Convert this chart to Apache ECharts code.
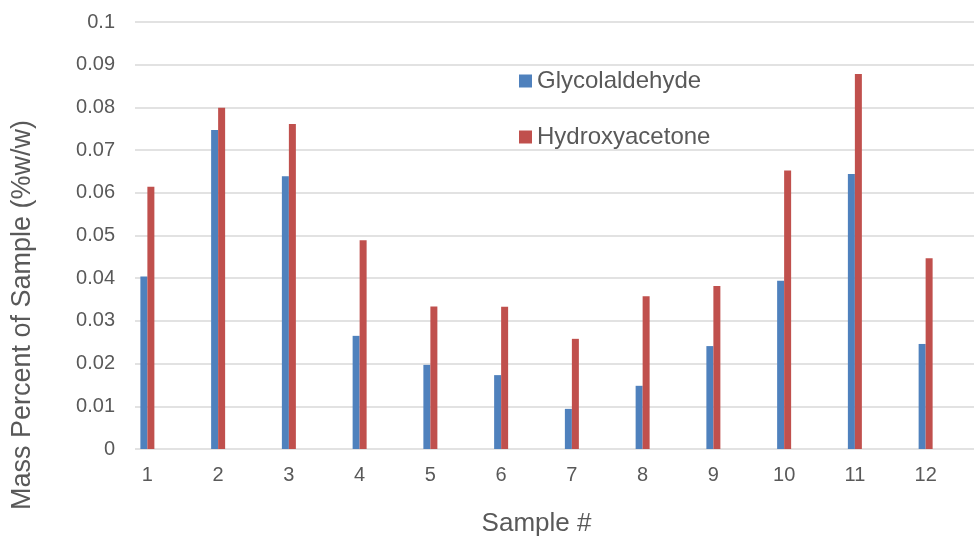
<!DOCTYPE html>
<html>
<head>
<meta charset="utf-8">
<script src="https://cdn.jsdelivr.net/npm/echarts@6/dist/echarts.min.js"></script>
<style>
html,body{margin:0;padding:0;background:#fff;}
#chart{width:974px;height:537px;}
</style>
</head>
<body>
<div id="chart"></div>
<script>
const categories = ['1','2','3','4','5','6','7','8','9','10','11','12'];
const glycolaldehyde = [0.0404, 0.0747, 0.0639, 0.0265, 0.0197, 0.0173, 0.0094, 0.0148, 0.0241, 0.0394, 0.0644, 0.0246];
const hydroxyacetone = [0.0614, 0.0799, 0.0761, 0.0489, 0.0334, 0.0333, 0.0258, 0.0358, 0.0382, 0.0652, 0.0878, 0.0447];
const seriesNames = ['Glycolaldehyde', 'Hydroxyacetone'];
const yAxisTitle = 'Mass Percent of Sample (%w/w)';
const xAxisTitle = 'Sample #';

const FONT = '"Liberation Sans", Arial, sans-serif';
const TXT = '#595959';

const chart = echarts.init(document.getElementById('chart'), null, {renderer: 'canvas'});
chart.setOption({
  animation: false,
  backgroundColor: '#ffffff',
  textStyle: {fontFamily: FONT, color: TXT},
  grid: [
    {left: 112, right: 13, top: 22, bottom: 88, containLabel: false, outerBoundsMode: 'none'},
    {left: 135, right: 0, top: 22, bottom: 88, containLabel: false, outerBoundsMode: 'none'}
  ],
  legend: {
    orient: 'vertical',
    left: 514,
    top: 64,
    itemWidth: 13,
    itemHeight: 13,
    itemGap: 32,
    icon: 'rect',
    textStyle: {fontFamily: FONT, fontSize: 24, color: TXT, lineHeight: 24},
    data: seriesNames
  },
  xAxis: [
    {
      type: 'category', gridIndex: 0, data: categories,
      axisLine: {show: false}, axisTick: {show: false},
      axisLabel: {fontFamily: FONT, fontSize: 20, color: TXT, margin: 16},
      name: xAxisTitle, nameLocation: 'middle', nameGap: 62,
      nameTextStyle: {fontFamily: FONT, fontSize: 26, color: TXT}
    },
    {type: 'value', gridIndex: 1, min: 0, max: 1, show: false}
  ],
  yAxis: [
    {type: 'value', gridIndex: 0, min: 0, max: 0.1, interval: 0.01, show: false},
    {
      type: 'value', gridIndex: 1, min: 0, max: 0.1, interval: 0.01,
      axisLine: {show: false}, axisTick: {show: false},
      axisLabel: {fontFamily: FONT, fontSize: 20, color: TXT, margin: 20,
        formatter: v => String(Math.round(v * 100) / 100)},
      splitLine: {show: true, lineStyle: {color: '#d9d9d9', width: 1.5}}
    }
  ],
  graphic: [{
    type: 'text', x: 23, y: 315, rotation: Math.PI / 2,
    style: {text: yAxisTitle, fontFamily: FONT, fontSize: 27, fill: TXT,
      textAlign: 'center', textVerticalAlign: 'middle'}
  }],
  series: [
    {name: seriesNames[0], type: 'bar', xAxisIndex: 0, yAxisIndex: 0, data: glycolaldehyde,
      barWidth: 7, barGap: '0%', itemStyle: {color: '#4f81bd'}},
    {name: seriesNames[1], type: 'bar', xAxisIndex: 0, yAxisIndex: 0, data: hydroxyacetone,
      barWidth: 7, barGap: '0%', itemStyle: {color: '#c0504d'}}
  ]
});
</script>
</body>
</html>
